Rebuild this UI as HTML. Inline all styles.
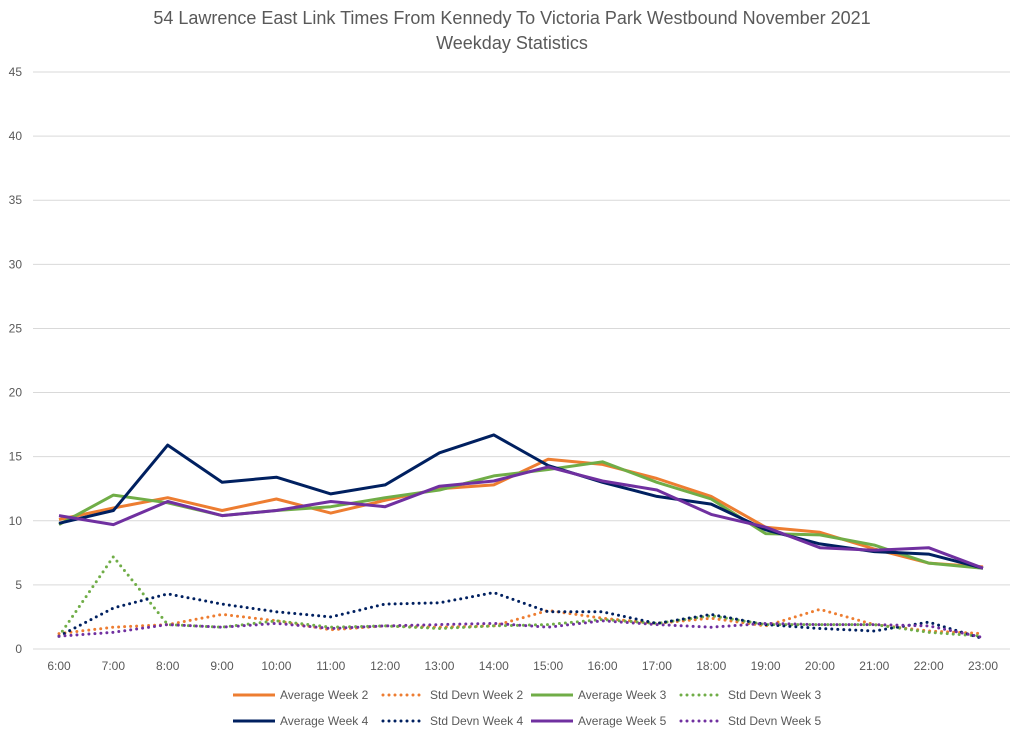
<!DOCTYPE html>
<html><head><meta charset="utf-8"><style>
body{margin:0;background:#fff;font-family:"Liberation Sans",sans-serif}
svg text{font-family:"Liberation Sans",sans-serif;fill:#595959}
</style></head><body>
<svg id="chart" width="1024" height="742" xmlns="http://www.w3.org/2000/svg">
<text x="512" y="24" text-anchor="middle" font-size="18">54 Lawrence East Link Times From Kennedy To Victoria Park Westbound November 2021</text>
<text x="512" y="49" text-anchor="middle" font-size="18">Weekday Statistics</text>
<g id="grid"></g><g id="series"></g><g id="legend"></g>
</svg>
<script>
const categories=["6:00","7:00","8:00","9:00","10:00","11:00","12:00","13:00","14:00","15:00","16:00","17:00","18:00","19:00","20:00","21:00","22:00","23:00"];
const yTicks=[0,5,10,15,20,25,30,35,40,45];
const avgWeek2=[10.1,11.0,11.8,10.8,11.7,10.6,11.6,12.5,12.8,14.8,14.4,13.3,11.9,9.5,9.1,7.8,6.7,6.4];
const sdWeek2=[1.2,1.7,1.9,2.7,2.2,1.5,1.8,1.7,1.8,3.0,2.4,2.0,2.4,1.8,3.1,1.9,1.4,1.2];
const avgWeek3=[9.7,12.0,11.4,10.4,10.8,11.1,11.8,12.4,13.5,14.0,14.6,13.0,11.7,9.0,8.9,8.1,6.7,6.3];
const sdWeek3=[1.0,7.2,1.9,1.7,2.2,1.7,1.8,1.6,1.8,1.9,2.3,2.0,2.6,1.9,1.9,1.9,1.3,1.0];
const avgWeek4=[9.8,10.8,15.9,13.0,13.4,12.1,12.8,15.3,16.7,14.3,13.0,11.9,11.3,9.3,8.2,7.6,7.4,6.3];
const sdWeek4=[1.0,3.2,4.3,3.5,2.9,2.5,3.5,3.6,4.4,2.9,2.9,2.0,2.7,1.9,1.6,1.4,2.1,0.8];
const avgWeek5=[10.4,9.7,11.5,10.4,10.8,11.5,11.1,12.7,13.1,14.2,13.1,12.4,10.5,9.5,7.9,7.7,7.9,6.3];
const sdWeek5=[1.0,1.3,1.9,1.7,2.0,1.6,1.8,1.9,2.0,1.7,2.2,1.9,1.7,2.0,1.9,1.9,1.8,0.9];
const seriesNames=["Average Week 2","Std Devn Week 2","Average Week 3","Std Devn Week 3","Average Week 4","Std Devn Week 4","Average Week 5","Std Devn Week 5"];

const NS="http://www.w3.org/2000/svg";
const x0=59,x1=983,yb=649,yt=72,ymax=45,left=33,right=1010;
const xS=i=>x0+i*(x1-x0)/(categories.length-1);
const yS=v=>yb-v*(yb-yt)/ymax;
function mk(tag,attrs,parent){const e=document.createElementNS(NS,tag);for(const k in attrs)e.setAttribute(k,attrs[k]);parent.appendChild(e);return e;}
const grid=document.getElementById('grid');
yTicks.forEach(t=>{
  const l=mk('line',{x1:left,x2:right,y1:yS(t),y2:yS(t),stroke:'#d9d9d9','stroke-width':1},grid);
  
  
  const tx=mk('text',{x:22,y:yS(t)+4,'text-anchor':'end','font-size':12},grid);
  tx.textContent=t;
  
  
});
categories.forEach((c,i)=>{
  const tx=mk('text',{x:xS(i),y:670,'text-anchor':'middle','font-size':12},grid);
  tx.textContent=c;
  
  
});
const defs=[[avgWeek2,'#ed7d31',false],[sdWeek2,'#ed7d31',true],[avgWeek3,'#70ad47',false],[sdWeek3,'#70ad47',true],[avgWeek4,'#002060',false],[sdWeek4,'#002060',true],[avgWeek5,'#7030a0',false],[sdWeek5,'#7030a0',true]];
const sg=document.getElementById('series');
defs.forEach((d,k)=>{
  const pts=d[0].map((v,i)=>xS(i).toFixed(1)+','+yS(v).toFixed(1)).join(' ');
  const a={points:pts,fill:'none',stroke:d[1],'stroke-width':3,'stroke-linejoin':'round'};
  if(d[2]){a['stroke-dasharray']='0 6';a['stroke-linecap']='round';}
  const p=mk('polyline',a,sg);
  
  
});
const lg=document.getElementById('legend');
const lx=[233,383,531,681];
defs.forEach((d,k)=>{
  const r=Math.floor(k/4),c=k%4,y=r?721:695;
  const g=mk('g',{},lg);
  
  
  const a={x1:lx[c],x2:lx[c]+42,y1:y,y2:y,stroke:d[1],'stroke-width':3};
  if(d[2]){a['stroke-dasharray']='0 6';a['stroke-linecap']='round';}
  mk('line',a,g);
  const t=mk('text',{x:lx[c]+47,y:y+4,'font-size':12},g);
  t.textContent=seriesNames[k];
});
</script>
</body></html>
